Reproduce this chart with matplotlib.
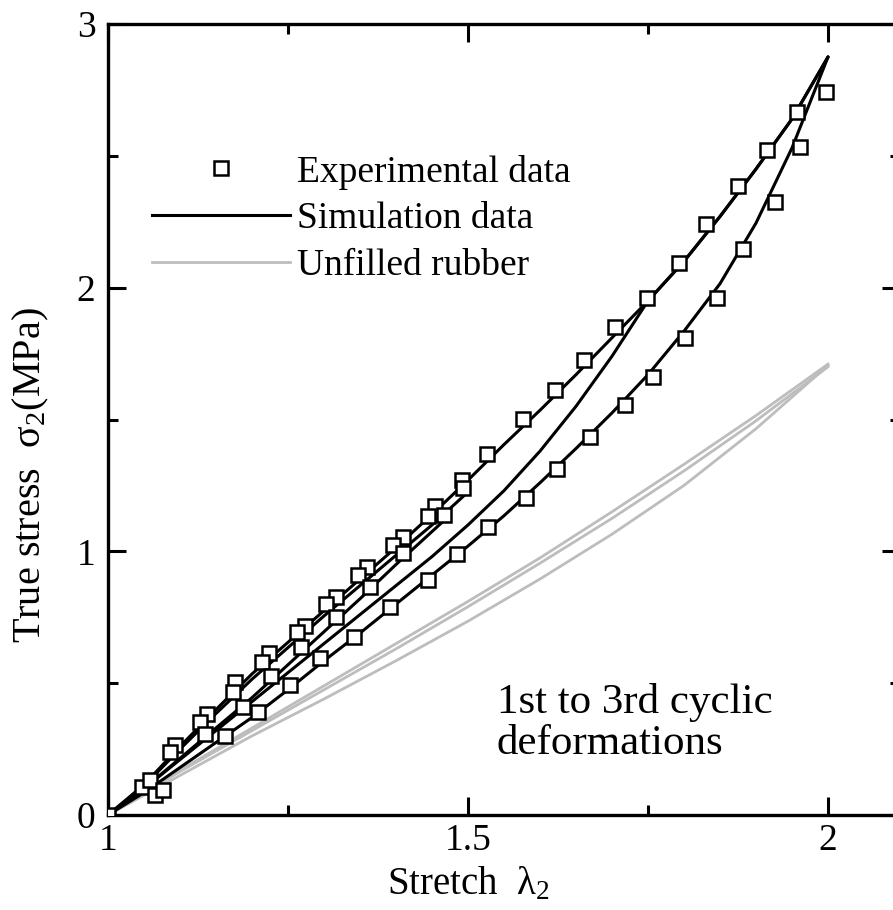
import matplotlib
matplotlib.use("Agg")
import matplotlib.pyplot as plt
from matplotlib.lines import Line2D
from matplotlib.ticker import MultipleLocator

plt.rcParams['font.family'] = ['Liberation Serif', 'DejaVu Serif']
plt.rcParams['mathtext.fontset'] = 'custom'
plt.rcParams['mathtext.rm'] = 'Liberation Serif'

# --- experimental data (squares) ---
exp1_x = [1.000, 1.047, 1.093, 1.138, 1.176, 1.224, 1.274, 1.317, 1.360, 1.410, 1.454, 1.492,
          1.526, 1.576, 1.621, 1.661, 1.704, 1.749, 1.793, 1.831, 1.875, 1.915, 1.957, 1.997]
exp1_y = [0.000, 0.106, 0.265, 0.383, 0.504, 0.614, 0.717, 0.827, 0.940, 1.054, 1.172, 1.270,
          1.369, 1.502, 1.612, 1.725, 1.851, 1.961, 2.093, 2.241, 2.385, 2.522, 2.666, 2.742]
exp2_x = [1.058, 1.086, 1.128, 1.174, 1.214, 1.263, 1.303, 1.347, 1.396, 1.444, 1.493]
exp2_y = [0.133, 0.239, 0.353, 0.466, 0.580, 0.694, 0.800, 0.910, 1.024, 1.134, 1.240]
exp3_x = [1.135, 1.188, 1.226, 1.268, 1.317, 1.364, 1.410, 1.467]
exp3_y = [0.307, 0.410, 0.527, 0.637, 0.751, 0.865, 0.994, 1.138]
expu_x = [1.065, 1.076, 1.163, 1.208, 1.253, 1.294, 1.342, 1.392, 1.444, 1.485, 1.528, 1.581,
          1.624, 1.669, 1.718, 1.757, 1.801, 1.846, 1.882, 1.926, 1.961]
expu_y = [0.076, 0.095, 0.300, 0.391, 0.493, 0.595, 0.675, 0.789, 0.891, 0.990, 1.092, 1.202,
          1.312, 1.433, 1.555, 1.661, 1.809, 1.961, 2.146, 2.325, 2.533]

# --- simulation curves ---
sim_x = [1.0, 1.05, 1.1, 1.15, 1.2, 1.25, 1.3, 1.35, 1.4, 1.45, 1.5, 1.55, 1.6, 1.65,
         1.7, 1.75, 1.8, 1.85, 1.9, 1.95, 2.0]
sim_load1 = [0.0, 0.115, 0.26, 0.40, 0.535, 0.655, 0.775, 0.895, 1.015, 1.14, 1.27, 1.405,
             1.535, 1.67, 1.81, 1.95, 2.10, 2.27, 2.45, 2.64, 2.875]
sim_load2 = [0.0, 0.10, 0.21, 0.32, 0.43, 0.54, 0.65, 0.76, 0.87, 0.98, 1.10, 1.23,
             1.38, 1.55, 1.74, 1.95, 2.10, 2.27, 2.45, 2.64, 2.875]
sim_unload = [0.0, 0.085, 0.18, 0.275, 0.37, 0.475, 0.585, 0.69, 0.80, 0.91, 1.02, 1.135,
              1.26, 1.39, 1.525, 1.67, 1.835, 2.015, 2.245, 2.53, 2.875]
simb_x = [1.0, 1.05, 1.1, 1.15, 1.2, 1.25, 1.3, 1.35, 1.4, 1.45, 1.5]
simb_y = [0.0, 0.11, 0.25, 0.385, 0.515, 0.635, 0.755, 0.87, 0.985, 1.10, 1.225]
simc_x = [1.0, 1.05, 1.1, 1.15, 1.2, 1.25, 1.3, 1.35, 1.4, 1.47]
simc_y = [0.0, 0.10, 0.215, 0.33, 0.445, 0.57, 0.695, 0.82, 0.95, 1.125]

# --- unfilled rubber ---
gum_x = [1.0, 1.1, 1.2, 1.3, 1.4, 1.5, 1.6, 1.7, 1.8, 1.9, 2.0]
gum_1 = [0.0, 0.17, 0.33, 0.49, 0.65, 0.81, 0.975, 1.15, 1.33, 1.515, 1.71]
gum_2 = [0.0, 0.165, 0.32, 0.475, 0.63, 0.79, 0.955, 1.125, 1.305, 1.495, 1.70]
gum_3 = [0.0, 0.15, 0.30, 0.44, 0.585, 0.735, 0.895, 1.065, 1.25, 1.465, 1.705]

fig = plt.figure(figsize=(8.93, 9.10), dpi=100)
ax = fig.add_axes([108 / 893, 95 / 910, 792 / 893, 791 / 910])

gray = '#bdbdbd'
for g in (gum_1, gum_2, gum_3):
    ax.plot(gum_x, g, color=gray, lw=2.0, zorder=2)

for xs, ys in ((sim_x, sim_load1), (sim_x, sim_load2), (sim_x, sim_unload),
               (simb_x, simb_y), (simc_x, simc_y)):
    ax.plot(xs, ys, color='black', lw=2.2, zorder=3, solid_capstyle='round',
            solid_joinstyle='round')

mk = dict(ls='none', marker='s', ms=10, mfc='white', mec='black', mew=1.8, zorder=4)
for xs, ys in ((exp1_x, exp1_y), (exp2_x, exp2_y), (exp3_x, exp3_y), (expu_x, expu_y)):
    ax.plot(xs, ys, **mk)

ax.set_xlim(1, 2.1)
ax.set_ylim(0, 3)
ax.xaxis.set_minor_locator(MultipleLocator(0.25))
ax.yaxis.set_minor_locator(MultipleLocator(0.5))
ax.set_xticks([1, 1.5, 2])
ax.set_xticklabels(['1', '1.5', '2'])
ax.set_yticks([0, 1, 2, 3])
ax.set_yticklabels(['0', '1', '2', '3'])
ax.tick_params(which='both', direction='in', top=True, right=True, width=2.2, labelsize=27)
ax.tick_params(which='major', length=13)
ax.tick_params(which='minor', length=7)
ax.tick_params(axis='x', pad=6)
ax.tick_params(axis='y', pad=9)
for s in ax.spines.values():
    s.set_linewidth(2.4)

ax.set_xlabel(r'Stretch  $\mathregular{λ_2}$', fontsize=28)
ax.xaxis.set_label_coords(0.455, -0.064)
ax.set_ylabel(r'True stress  $\mathregular{σ_2}$(MPa)', fontsize=29)
ax.yaxis.set_label_coords(-0.072, 0.43)

handles = [
    Line2D([], [], ls='none', marker='s', ms=10, mfc='white', mec='black', mew=1.8),
    Line2D([], [], color='black', lw=2.2),
    Line2D([], [], color=gray, lw=2.0),
]
ax.legend(handles, ['Experimental data', 'Simulation data', 'Unfilled rubber'],
          loc='upper left', bbox_to_anchor=(0.055, 0.835), frameon=False, fontsize=27,
          handlelength=3.7, handletextpad=0.18, labelspacing=0.33, borderpad=0, borderaxespad=0)

ax.text(0.491, 0.116, '1st to 3rd cyclic\ndeformations', transform=ax.transAxes,
        fontsize=31, linespacing=1.1, ha='left', va='center')

fig.savefig('out.png', dpi=100)
